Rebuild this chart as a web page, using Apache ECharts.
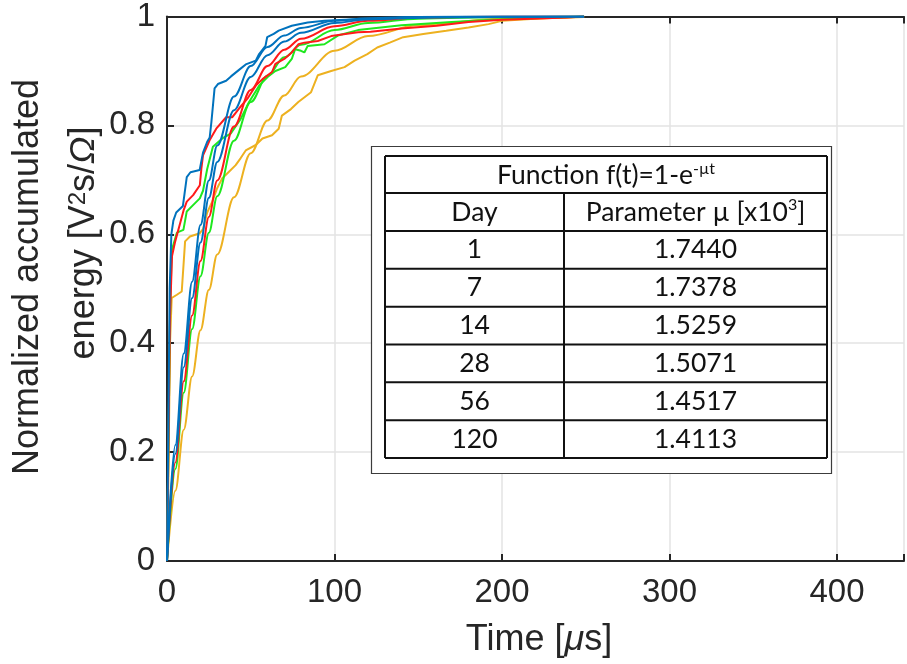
<!DOCTYPE html>
<html>
<head>
<meta charset="utf-8">
<script src="https://cdn.jsdelivr.net/npm/echarts@6.0.0/dist/echarts.min.js"></script>
<style>
  html, body { margin: 0; padding: 0; background: #ffffff; }
  #chart { width: 907px; height: 664px; }
</style>
</head>
<body>
<div id="chart"></div>
<script>
// ---- Data: normalized accumulated energy vs. time [µs] ----
const xTicks = [0, 100, 200, 300, 400];
const yTicks = [0, 0.2, 0.4, 0.6, 0.8, 1];

// Measured curves, [time µs, normalized energy]
const measuredBlue = [[0,0],[0.8,0.25],[1.6,0.5],[2.6,0.6],[3.8,0.625],[5.5,0.64],[9.5,0.652],[10.5,0.675],[11.8,0.705],[14,0.714],[19.5,0.718],[21.5,0.75],[24,0.77],[25.5,0.778],[26.5,0.806],[28.4,0.868],[30.4,0.876],[35.3,0.882],[38.2,0.89],[43,0.902],[47,0.912],[53,0.919],[55,0.931],[58.8,0.946],[59.8,0.962],[63.7,0.968],[66.7,0.974],[74.5,0.983],[84,0.989],[94,0.992],[106,0.994],[130,0.996],[160,0.998],[200,0.999],[249,1]];
const measuredRed = [[0,0],[0.8,0.2],[1.8,0.45],[3,0.56],[4.9,0.587],[7.8,0.62],[10,0.645],[11.8,0.66],[15.6,0.672],[19.6,0.69],[20.5,0.72],[21.5,0.745],[25.5,0.773],[29.4,0.794],[35.3,0.815],[39,0.815],[43,0.831],[48,0.849],[53,0.873],[57,0.885],[62.7,0.898],[64.7,0.913],[70,0.922],[74.5,0.934],[78.4,0.949],[82,0.952],[90,0.955],[98,0.964],[114,0.971],[121.5,0.972],[140,0.978],[161,0.983],[180,0.99],[200,0.994],[239,0.998],[249,1]];
const measuredGreen = [[0,0],[0.8,0.2],[1.8,0.45],[2.8,0.57],[5.9,0.603],[9.8,0.608],[11.8,0.642],[15.7,0.654],[19.6,0.666],[21.5,0.68],[24,0.72],[27.4,0.761],[33,0.776],[38,0.785],[44,0.812],[49,0.843],[55,0.873],[60.8,0.891],[64.7,0.9],[70.6,0.907],[74.5,0.922],[76.5,0.94],[80,0.937],[82,0.934],[84,0.946],[94,0.949],[102,0.965],[114,0.975],[140,0.984],[170,0.99],[200,0.995],[249,1]];
const measuredOrange = [[0,0],[0.8,0.15],[1.8,0.4],[2.8,0.483],[5.9,0.489],[8.8,0.495],[10,0.55],[10.8,0.587],[13.7,0.596],[19.6,0.602],[21.6,0.61],[24,0.64],[27,0.66],[30,0.685],[33,0.703],[37,0.715],[41,0.727],[44,0.74],[47,0.754],[53,0.764],[57,0.776],[62.7,0.782],[66.7,0.794],[68.6,0.818],[74,0.83],[78.4,0.843],[86,0.861],[90,0.892],[98,0.9],[106,0.907],[112,0.919],[119.6,0.931],[125.5,0.943],[133,0.952],[141,0.962],[153,0.968],[166.7,0.974],[180,0.98],[192,0.986],[200,0.992],[219.6,0.996],[249,1]];

// Fitted curves, sampled at fitTime
const fitTime   = [0, 5, 10, 15, 20, 25, 30, 40, 50, 60, 70, 80, 100, 120, 150, 200, 249];
const fitBlueA  = [0, 0.213, 0.381, 0.513, 0.617, 0.699, 0.763, 0.853, 0.909, 0.944, 0.965, 0.979, 0.992, 0.997, 0.999, 1, 1];
const fitBlueB  = [0, 0.197, 0.356, 0.483, 0.585, 0.667, 0.733, 0.828, 0.889, 0.929, 0.954, 0.970, 0.988, 0.995, 0.999, 1, 1];
const fitRed    = [0, 0.181, 0.330, 0.451, 0.551, 0.632, 0.699, 0.798, 0.865, 0.909, 0.939, 0.959, 0.982, 0.992, 0.998, 1, 1];
const fitGreen  = [0, 0.169, 0.309, 0.426, 0.523, 0.603, 0.670, 0.772, 0.843, 0.891, 0.925, 0.948, 0.975, 0.988, 0.996, 0.999, 1];
const fitOrange = [0, 0.129, 0.241, 0.339, 0.424, 0.498, 0.563, 0.668, 0.749, 0.809, 0.855, 0.890, 0.937, 0.964, 0.984, 0.996, 0.999];

// Fit parameter table
const tableTitle = 'Function f(t)=1-e';
const tableTitleSup = '-\u00b5t';
const days = ['1', '7', '14', '28', '56', '120'];
const muValues = ['1.7440', '1.7378', '1.5259', '1.5071', '1.4517', '1.4113'];

// ---- Styling ----
const C = {
  blue: '#0072BD', red: '#FF1A1A', green: '#1EE81E', orange: '#EDB120',
  axis: '#262626', grid: '#e3e3e3'
};
const AXIS_FONT = '"Liberation Sans", Arial, Helvetica, sans-serif';
const TABLE_FONT = 'Lato, "Open Sans", sans-serif';
const TABLE_SIZE = 26.5;

const pair = (xs, ys) => xs.map((x, i) => [x, ys[i]]);

function lineSeries(data, color, smooth) {
  return {
    type: 'line', data: data, showSymbol: false, smooth: smooth ? 0.35 : false,
    smoothMonotone: smooth ? 'x' : undefined,
    clip: true, silent: true,
    lineStyle: { color: color, width: 2 }
  };
}

// ---- Parameter table as graphic elements ----
function buildTable() {
  const x0 = 385, x1 = 827, xm = 564;
  const rowEdges = [156, 193, 231];
  const rowH = (458 - 231) / days.length;
  for (let i = 1; i <= days.length; i++) rowEdges.push(231 + i * rowH);
  const els = [];
  els.push({ type: 'rect', shape: { x: 371.5, y: 146.5, width: 460, height: 327 },
    style: { fill: '#ffffff', stroke: '#3c3c3c', lineWidth: 1.2 }, z: 10 });
  rowEdges.forEach(y => els.push({ type: 'line', shape: { x1: x0, y1: y, x2: x1, y2: y },
    style: { stroke: '#111', lineWidth: 2 }, z: 11 }));
  [[x0, rowEdges[0]], [x1, rowEdges[0]], [xm, rowEdges[1]]].forEach(([x, yTop]) =>
    els.push({ type: 'line', shape: { x1: x, y1: yTop, x2: x, y2: rowEdges[rowEdges.length - 1] },
      style: { stroke: '#111', lineWidth: 2 }, z: 11 }));
  const rich = {
    m: { fontFamily: TABLE_FONT, fontSize: TABLE_SIZE, lineHeight: 30, fill: '#111' },
    s: { fontFamily: TABLE_FONT, fontSize: 16, lineHeight: 16, verticalAlign: 'top', fill: '#111' }
  };
  const tText = (x, y, text) => ({
    type: 'text', x: x, y: y, z: 12,
    style: { text: text, fontFamily: TABLE_FONT, fontSize: TABLE_SIZE, fill: '#111',
      align: 'center', verticalAlign: 'middle', rich: rich }
  });
  const mid = (a, b) => (a + b) / 2;
  els.push(tText(mid(x0, x1), mid(rowEdges[0], rowEdges[1]) + 1,
    '{m|' + tableTitle + '}{s|' + tableTitleSup + '}'));
  els.push(tText(mid(x0, xm), mid(rowEdges[1], rowEdges[2]), '{m|Day}'));
  els.push(tText(mid(xm, x1), mid(rowEdges[1], rowEdges[2]),
    '{m|Parameter \u00b5 [x10}{s|3}{m|]}'));
  days.forEach((d, i) => {
    const yc = mid(rowEdges[i + 2], rowEdges[i + 3]);
    els.push(tText(mid(x0, xm), yc, '{m|' + d + '}'));
    els.push(tText(mid(xm, x1), yc, '{m|' + muValues[i] + '}'));
  });
  return els;
}

// ---- Axis titles ----
const titleRich = {
  t: { fontFamily: AXIS_FONT, fontSize: 36, fill: '#262626' },
  it: { fontFamily: AXIS_FONT, fontSize: 36, fontStyle: 'italic', fill: '#262626' },
  sup: { fontFamily: AXIS_FONT, fontSize: 24, lineHeight: 22, verticalAlign: 'top', fill: '#262626' }
};
const axisTitles = [
  { type: 'text', x: 539, y: 640, z: 5,
    style: { text: '{t|Time [}{it|\u03bc}{t|s]}', rich: titleRich, align: 'center', verticalAlign: 'middle' } },
  { type: 'text', x: 28, y: 277, rotation: Math.PI / 2, z: 5,
    style: { text: '{t|Normalized accumulated}', rich: titleRich, align: 'center', verticalAlign: 'middle' } },
  { type: 'text', x: 84, y: 243, rotation: Math.PI / 2, z: 5,
    style: { text: '{t|energy [V}{sup|2}{t|s/}{it|\u03a9}{t|]}', rich: titleRich, align: 'center', verticalAlign: 'middle' } }
];

const axisLine = { show: true, lineStyle: { color: C.axis, width: 2 } };
const axisTick = { show: true, inside: true, length: 7, lineStyle: { color: C.axis, width: 2 } };

const chart = echarts.init(document.getElementById('chart'), null, { renderer: 'canvas' });
chart.setOption({
  animation: false,
  backgroundColor: '#ffffff',
  grid: { left: 167, top: 14, width: 748, height: 547, containLabel: false },
  xAxis: [
    { type: 'value', min: 0, max: 440, interval: 100, position: 'bottom',
      axisLine: axisLine, axisTick: axisTick,
      axisLabel: { fontSize: 33, fontFamily: AXIS_FONT, color: C.axis, margin: 15,
        formatter: v => (xTicks.indexOf(v) >= 0 ? String(v) : '') },
      splitLine: { show: true, lineStyle: { color: C.grid, width: 1.5 } } },
    { type: 'value', min: 0, max: 440, interval: 100, position: 'top',
      axisLine: axisLine, axisTick: axisTick, axisLabel: { show: false }, splitLine: { show: false } }
  ],
  yAxis: [
    { type: 'value', min: 0, max: 1, interval: 0.2, position: 'left',
      axisLine: axisLine, axisTick: axisTick,
      axisLabel: { fontSize: 33, fontFamily: AXIS_FONT, color: C.axis, margin: 12,
        formatter: v => { const k = yTicks.find(t => Math.abs(t - v) < 1e-9); return k === undefined ? '' : String(k); } },
      splitLine: { show: true, lineStyle: { color: C.grid, width: 1.5 } } }
  ],
  series: [
    lineSeries(pair(fitTime, fitOrange), C.orange, true),
    lineSeries(measuredOrange, C.orange, false),
    lineSeries(pair(fitTime, fitGreen), C.green, true),
    lineSeries(measuredGreen, C.green, false),
    lineSeries(pair(fitTime, fitRed), C.red, true),
    lineSeries(measuredRed, C.red, false),
    lineSeries(pair(fitTime, fitBlueB), C.blue, true),
    lineSeries(pair(fitTime, fitBlueA), C.blue, true),
    lineSeries(measuredBlue, C.blue, false)
  ],
  graphic: axisTitles.concat(buildTable())
});
</script>
</body>
</html>
